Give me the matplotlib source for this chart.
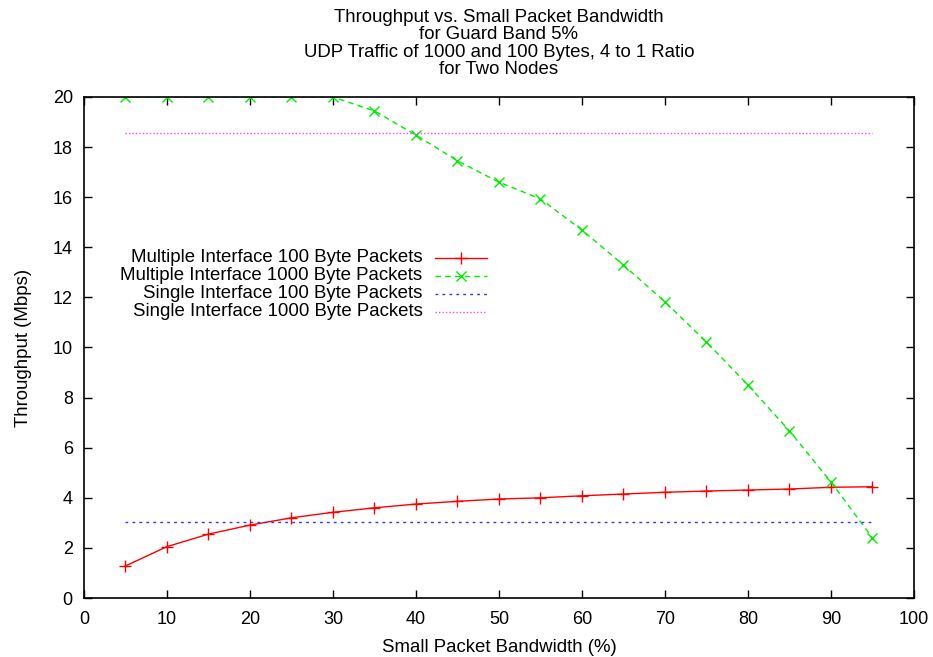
import matplotlib
matplotlib.use("Agg")
import matplotlib.pyplot as plt
from matplotlib.lines import Line2D

plt.rcParams['font.family'] = ['Liberation Sans', 'DejaVu Sans']

# =========================
# Dados
# =========================
largura = [5, 10, 15, 20, 25, 30, 35, 40, 45, 50, 55, 60, 65, 70, 75, 80, 85, 90, 95]

multi_100 = [1.28, 2.05, 2.55, 2.91, 3.20, 3.42, 3.60, 3.75, 3.86, 3.95,
             4.00, 4.08, 4.15, 4.22, 4.27, 4.31, 4.35, 4.42, 4.44]
multi_1000 = [20.0, 20.0, 20.0, 20.0, 20.0, 20.0, 19.44, 18.48, 17.45, 16.6,
              15.93, 14.69, 13.29, 11.82, 10.22, 8.5, 6.67, 4.63, 2.4]
single_100 = [3.02] * len(largura)
single_1000 = [18.56] * len(largura)

rotulos = ["Multiple Interface 100 Byte Packets",
           "Multiple Interface 1000 Byte Packets",
           "Single Interface 100 Byte Packets",
           "Single Interface 1000 Byte Packets"]

titulo = ("Throughput vs. Small Packet Bandwidth\n"
          "for Guard Band 5%\n"
          "UDP Traffic of 1000 and 100 Bytes, 4 to 1 Ratio\n"
          "for Two Nodes")

# =========================
# Gráfico
# =========================
fig = plt.figure(figsize=(9.33, 6.57), dpi=100)
ax = fig.add_axes([0.0900, 0.0898, 0.8896, 0.7626])

estilos = [
    dict(color='#ff0000', ls='-', marker='+', ms=9, mew=1.0, lw=1.0),
    dict(color='#00ee00', ls=(0, (4, 3)), marker='x', ms=7, mew=1.0, lw=1.0),
    dict(color='#3333ff', ls=(0, (2, 3)), marker=None, lw=1.0),
    dict(color='#ff44ff', ls=(0, (1, 1.5)), marker=None, lw=1.0),
]
series = [multi_100, multi_1000, single_100, single_1000]

for s, st in zip(series, estilos):
    ax.plot(largura, s, **st)

ax.set_xlim(0, 100)
ax.set_ylim(0, 20)
ax.set_xticks(range(0, 101, 10))
ax.set_yticks(range(0, 21, 2))
ax.tick_params(direction='in', length=6, width=1, top=True, right=True,
               labelsize=13)
ax.tick_params(axis='x', pad=9)
ax.tick_params(axis='y', pad=8)
for sp in ax.spines.values():
    sp.set_linewidth(1.2)

ax.set_xlabel("Small Packet Bandwidth (%)", fontsize=13.4, labelpad=8)
ax.set_ylabel("Throughput (Mbps)", fontsize=13.4, labelpad=15)
# título centrado sobre a área do gráfico, como no gnuplot
ax.text(0.5, 1.038, titulo, transform=ax.transAxes, ha='center', va='bottom',
        fontsize=13.4, linespacing=1.03)

# legenda estilo gnuplot (texto alinhado à direita, amostra à direita)
y0 = 0.679
dy = 0.036
for i, (rot, st) in enumerate(zip(rotulos, estilos)):
    y = y0 - i * dy
    ax.text(0.408, y, rot, transform=ax.transAxes, ha='right', va='center',
            fontsize=13.4)
    ax.add_line(Line2D([0.423, 0.486], [y, y], transform=ax.transAxes,
                       color=st['color'], ls=st['ls'], lw=st['lw']))
    if st.get('marker'):
        ax.add_line(Line2D([0.4545], [y], transform=ax.transAxes,
                           color=st['color'], marker=st['marker'],
                           ms=st['ms'], mew=st['mew'], ls='none'))

fig.savefig("out.png", dpi=100)
